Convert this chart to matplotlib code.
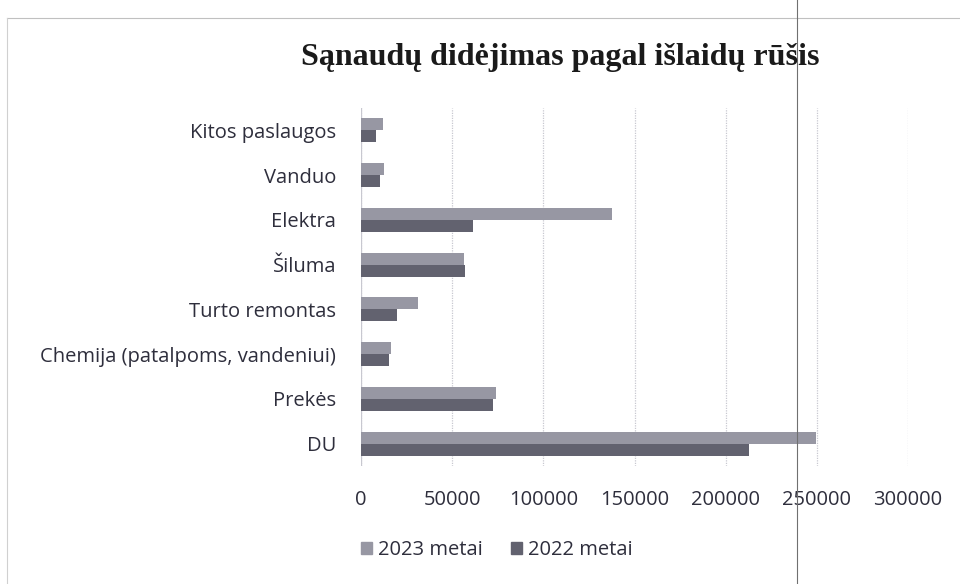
import numpy as np
import matplotlib.pyplot as plt
from matplotlib.lines import Line2D
from matplotlib.patches import Patch

# categories listed bottom -> top as drawn on the chart
categories = ["DU", "Prekės", "Chemija (patalpoms, vandeniui)", "Turto remontas",
              "Šiluma", "Elektra", "Vanduo", "Kitos paslaugos"]
values_2023 = [249500, 73800, 16500, 31000, 56300, 137500, 12800, 12300]
values_2022 = [212700, 72500, 15400, 20000, 57300, 61300, 10500, 8300]
series_names = ["2023 metai", "2022 metai"]
xticks = [0, 50000, 100000, 150000, 200000, 250000, 300000]

c2023 = "#9797a3"
c2022 = "#62626f"
txt = "#2e2e3c"

fig = plt.figure(figsize=(9.6, 5.84), dpi=100)
ax = fig.add_axes([361 / 960, 1 - 466 / 584, (908 - 361) / 960, (466 - 108) / 584])

y = np.arange(len(categories))
h = 0.27
ax.barh(y + h / 2, values_2023, height=h, color=c2023, zorder=3)
ax.barh(y - h / 2, values_2022, height=h, color=c2022, zorder=3)

ax.set_xlim(0, 300000)
ax.set_ylim(-0.5, len(categories) - 0.5)
ax.set_xticks(xticks)
ax.set_xticklabels([str(v) for v in xticks], fontsize=14.5, color=txt, family="Open Sans")
ax.set_yticks(y)
ax.set_yticklabels(categories, fontsize=14.5, color=txt, family="Open Sans")
ax.tick_params(axis="both", length=0)
ax.tick_params(axis="x", pad=17)
ax.tick_params(axis="y", pad=18)
ax.grid(axis="x", color="#c8c8d0", linewidth=0.9, linestyle=(0, (1, 1)), zorder=0)
for s in ax.spines.values():
    s.set_visible(False)
ax.axvline(0, color="#c8c8d0", linewidth=0.9, zorder=1)

fig.text(560 / 960, 1 - 58 / 584, "Sąnaudų didėjimas pagal išlaidų rūšis",
         ha="center", va="center", fontsize=23, fontweight="bold",
         family="Liberation Serif", color="#1a1a1a")

handles = [Patch(color=c2023), Patch(color=c2022)]
fig.legend(handles, series_names, loc="center", bbox_to_anchor=(497 / 960, 1 - 550 / 584),
           ncol=2, frameon=False, prop={"family": "Open Sans", "size": 14.5},
           handlelength=0.55, handleheight=0.55, handletextpad=0.3, columnspacing=1.4,
           labelcolor=txt)

# outer chart frame and scan fold line
fig.add_artist(Line2D([7 / 960, 1], [1 - 18 / 584] * 2, color="#c0c0c0", linewidth=0.8))
fig.add_artist(Line2D([7 / 960] * 2, [0, 1 - 18 / 584], color="#d0d0d0", linewidth=0.8))
fig.add_artist(Line2D([797 / 960] * 2, [0, 1], color="#707070", linewidth=0.8))

fig.savefig("out.png", dpi=100)
